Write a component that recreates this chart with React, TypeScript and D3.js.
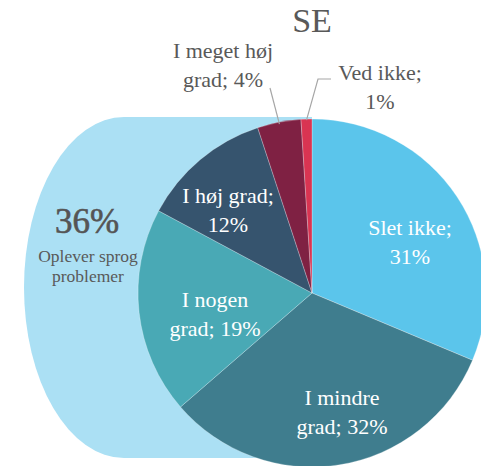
import React from "react";
import * as d3 from "d3";

const categories = ["Slet ikke", "I mindre grad", "I nogen grad", "I høj grad", "I meget høj grad", "Ved ikke"];
const values = [31, 32, 19, 12, 4, 1];
const labelLines = [
  ["Slet ikke;", "31%"],
  ["I mindre", "grad; 32%"],
  ["I nogen", "grad; 19%"],
  ["I høj grad;", "12%"],
  ["I meget høj", "grad; 4%"],
  ["Ved ikke;", "1%"],
];
const colors = ["#5BC5EB", "#3F7D8E", "#49A9B5", "#36546E", "#7F2143", "#D93452"];
const title = "SE";
const sideValue = "36%";
const sideLines = ["Oplever sprog", "problemer"];

const W = 481;
const H = 466;
const cx = 312;
const cy = 293;
const R = 174;
const FONT = "'Liberation Serif', 'DejaVu Serif', serif";

// label centers (x, first baseline) per slice
const labelPos: [number, number, string][] = [
  [410, 235, "#fff"],
  [342, 405, "#fff"],
  [215, 307, "#fff"],
  [228, 203, "#fff"],
  [223, 58, "#595959"],
  [380, 80, "#595959"],
];

export default function App() {
  const pie = d3.pie<number>().sort(null).value((d) => d);
  const arcs = pie(values);
  const arc = d3.arc<d3.PieArcDatum<number>>().innerRadius(0).outerRadius(R);

  const top = 117;
  const bottom = 458;
  const left = 24;
  const ex = 124;
  const ry = (bottom - top) / 2;
  const bg = `M${cx},${top} L${ex},${top} A${ex - left},${ry} 0 0 0 ${ex},${bottom} L${cx},${bottom} Z`;

  const a4 = (arcs[4].startAngle + arcs[4].endAngle) / 2;
  const a5 = (arcs[5].startAngle + arcs[5].endAngle) / 2;
  const edge = (a: number, r: number) => [cx + Math.sin(a) * r, cy - Math.cos(a) * r];
  const e4 = edge(a4, R - 2);
  const e5 = edge(a5, R - 1);

  return (
    <svg width={W} height={H} style={{ position: "absolute", left: 0, top: 0 }} fontFamily={FONT}>
      <rect width={W} height={H} fill="#fff" />
      <path d={bg} fill="#ABE0F4" />
      <g transform={`translate(${cx},${cy})`}>
        {arcs.map((a, i) => (
          <path key={categories[i]} d={arc(a) || ""} fill={colors[i]} stroke="#ffffff" strokeOpacity={0.35} strokeWidth={0.75} />
        ))}
      </g>
      <text x={cx} y={32} textAnchor="middle" fontSize={34} fill="#595959">{title}</text>
      <polyline points={`270,88 ${e4[0]},${e4[1]}`} fill="none" stroke="#A6A6A6" strokeWidth={1.2} />
      <polyline points={`331,79 318,79 ${e5[0]},${e5[1]}`} fill="none" stroke="#A6A6A6" strokeWidth={1.2} />
      {labelLines.map((lines, i) => (
        <text key={i} textAnchor="middle" fontSize={22} fill={labelPos[i][2]}>
          {lines.map((l, j) => (
            <tspan key={j} x={labelPos[i][0]} y={labelPos[i][1] + j * 29}>{l}</tspan>
          ))}
        </text>
      ))}
      <text x={87} y={233} textAnchor="middle" fontSize={35} fill="#555555" stroke="#555555" strokeWidth={0.6}>{sideValue}</text>
      {sideLines.map((l, j) => (
        <text key={j} x={88} y={262 + j * 20} textAnchor="middle" fontSize={17.5} fill="#595959">{l}</text>
      ))}
    </svg>
  );
}
